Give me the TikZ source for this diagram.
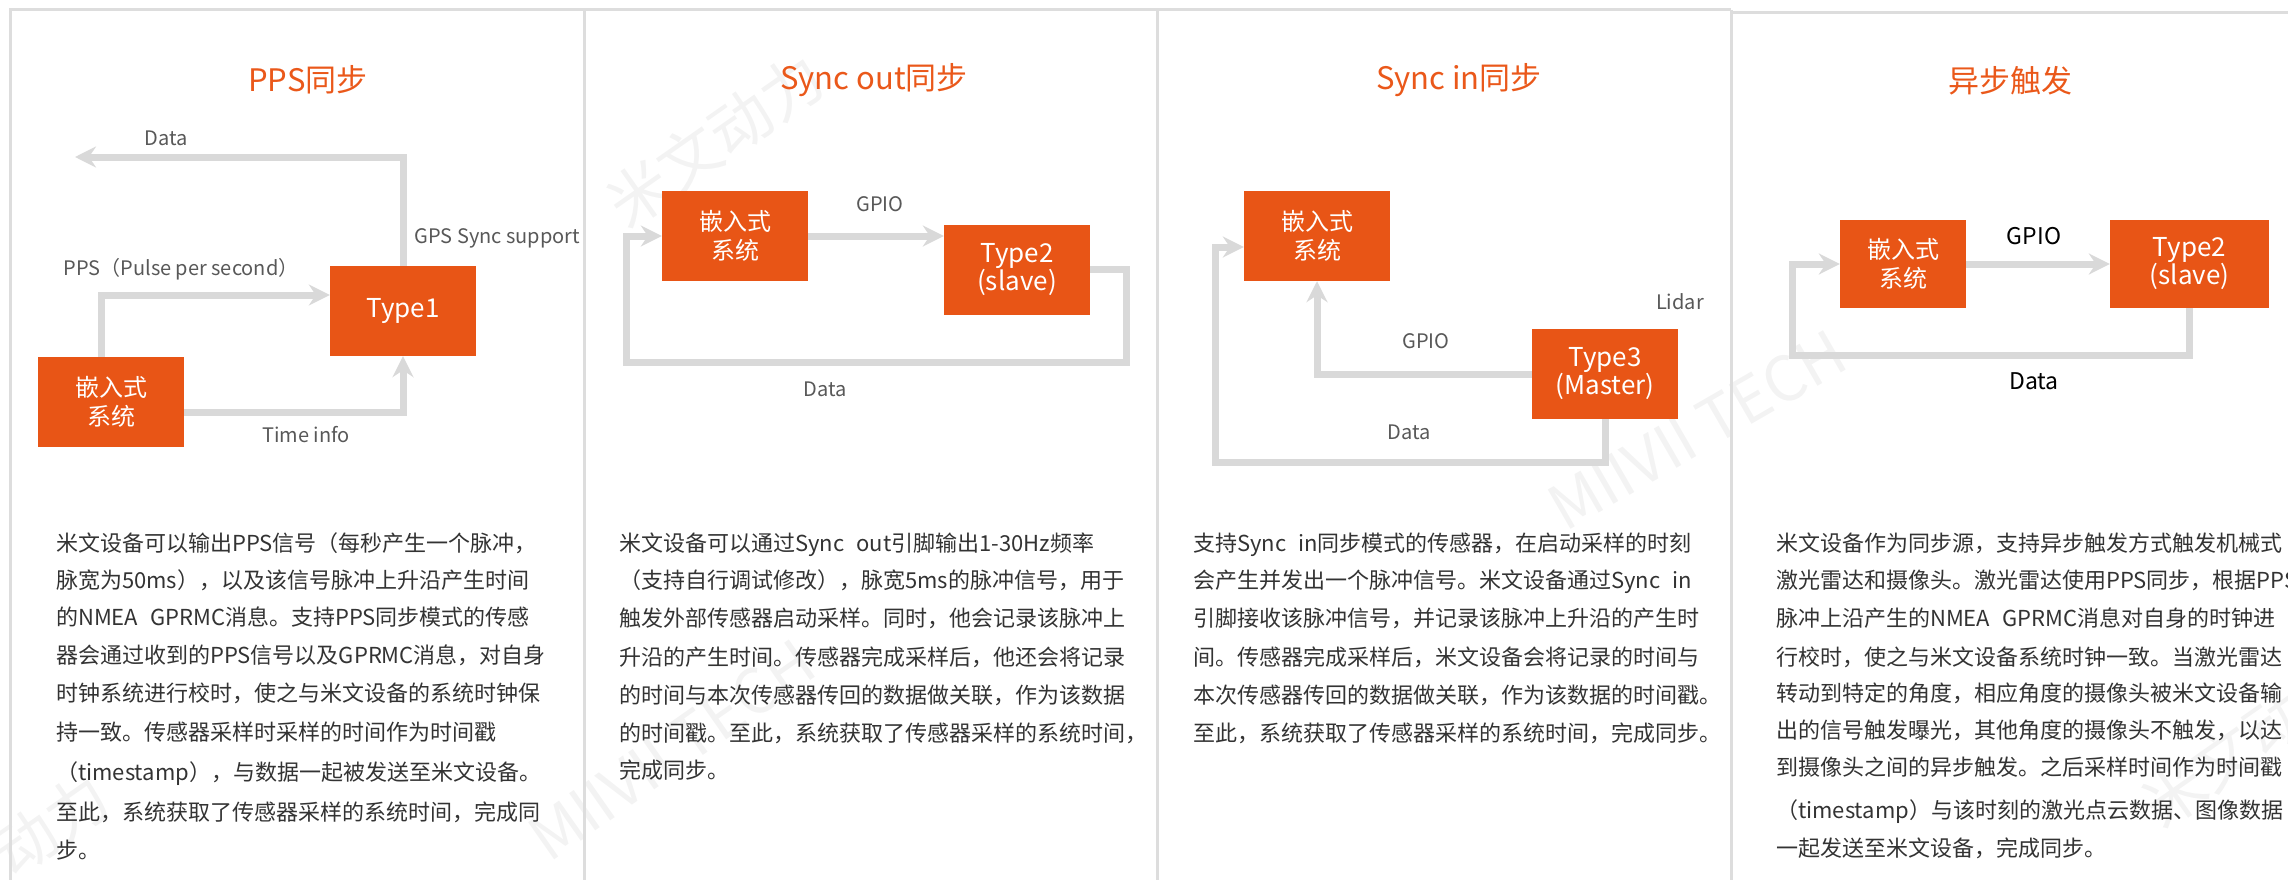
\documentclass[tikz,border=0pt]{standalone}
\usepackage{fontspec}
\setmainfont{Noto Sans CJK SC}
\usepackage{tikz}
\usetikzlibrary{arrows.meta, positioning}
\definecolor{boxorange}{RGB}{232,85,22}
\definecolor{ttlorange}{RGB}{234,88,26}
\definecolor{flowgray}{RGB}{217,217,217}
\definecolor{framegray}{RGB}{221,221,221}
\definecolor{lblgray}{RGB}{88,88,88}
\definecolor{bodygray}{RGB}{51,51,51}
\definecolor{wmgray}{RGB}{243,243,243}
\newcommand{\EMB}{嵌入式\\系统}
\newcommand{\SLAVE}{Type2\\(slave)}
\newcommand{\gapsp}{\hspace{12pt}}
\tikzset{
  box/.style={fill=boxorange, minimum width=146pt, minimum height=90pt, inner sep=0pt,
    text=white, align=center, font=\fontsize{24}{29}\selectfont},
  typebox/.style={box, font=\fontsize{26}{28}\selectfont},
  flow/.style={draw=flowgray, line width=7pt, -{Stealth[length=21pt,width=21pt,inset=7pt]}},
  ttl/.style={text=ttlorange, font=\fontsize{31}{36}\selectfont},
  lbl/.style={text=lblgray, font=\fontsize{20}{24}\selectfont},
  lblb/.style={text=black, font=\fontsize{23}{26}\selectfont},
  body/.style={anchor=base west, inner sep=0pt, text=bodygray, font=\fontsize{22}{26}\selectfont},
  frame/.style={draw=framegray, line width=3pt},
  wmark/.style={text=wmgray, font=\fontsize{62}{62}\selectfont}
}
\begin{document}
\begin{tikzpicture}[x=1pt,y=-1pt]
\useasboundingbox (0,0) rectangle (2288,880);
% watermarks
\node[wmark,rotate=35] (wm1) at (715,140) {米文动力};
\node[wmark,rotate=30] (wm2) at (1697,430) {MIIVII TECH};
\node[wmark,rotate=35] (wm3) at (672,750) {MIIVII TECH};
\node[wmark,rotate=35] (wm4) at (0,860) {米文动力};
\node[wmark,rotate=35] (wm5) at (2250,740) {米文动力};
% panel frames
\draw[frame] (10,880) -- (10,10) -- (1731,10);
\draw[frame] (584,10) -- (584,880);
\draw[frame] (1157,10) -- (1157,880);
\draw[frame] (1731,10) -- (1731,880);
\draw[frame] (1731,12.5) -- (2288,12.5);
% PPS panel
\node[ttl] (ttl1) at (308,80) {PPS同步};
\node[box] (e1) at (111,402) {\EMB};
\node[typebox] (t1) at (403,311) {Type1};
\coordinate (d1) at (75,157);
\draw[flow] (t1.north) |- (d1);
\draw[flow] ([xshift=-10pt]e1.north) |- ([yshift=16pt]t1.west);
\draw[flow] ([yshift=-10pt]e1.east) -| (t1.south);
\node[lbl] (l1a) at (166,138) {Data};
\node[lbl,anchor=west] (l1b) at (411,238) {GPS Sync support};
\node[lbl] (l1c) at (181,269) {PPS（Pulse per second）};
\node[lbl] (l1d) at (306,435) {Time info};
\node[body] (p1a) at (56,551) {米文设备可以输出PPS信号（每秒产生一个脉冲，};
\node[body] (p1b) at (56,588) {脉宽为50ms），以及该信号脉冲上升沿产生时间};
\node[body] (p1c) at (56,625) {的NMEA\gapsp GPRMC消息。支持PPS同步模式的传感};
\node[body] (p1d) at (56,663) {器会通过收到的PPS信号以及GPRMC消息，对自身};
\node[body] (p1e) at (56,701) {时钟系统进行校时，使之与米文设备的系统时钟保};
\node[body] (p1f) at (56,740) {持一致。传感器采样时采样的时间作为时间戳};
\node[body] (p1g) at (56,780) {（timestamp），与数据一起被发送至米文设备。};
\node[body] (p1h) at (56,820) {至此，系统获取了传感器采样的系统时间，完成同};
\node[body] (p1i) at (56,858) {步。};
% Sync out panel
\node[ttl] (ttl2) at (874,80) {Sync out同步};
\node[box] (e2) at (735,236) {\EMB};
\node[typebox] (t2) at (1017,269.5) {\SLAVE};
\coordinate (d2) at (626,362);
\draw[flow] (e2.east) -- (e2.east -| t2.west);
\draw[flow] (t2.east) -- ++(36,0) |- (d2) |- (e2.west);
\node[lbl] (l2a) at (880,204) {GPIO};
\node[lbl] (l2b) at (825,389) {Data};
\node[body] (p2a) at (619,551) {米文设备可以通过Sync\gapsp out引脚输出1-30Hz频率};
\node[body] (p2b) at (619,588) {（支持自行调试修改），脉宽5ms的脉冲信号，用于};
\node[body] (p2c) at (619,626) {触发外部传感器启动采样。同时，他会记录该脉冲上};
\node[body] (p2d) at (619,665) {升沿的产生时间。传感器完成采样后，他还会将记录};
\node[body] (p2e) at (619,703) {的时间与本次传感器传回的数据做关联，作为该数据};
\node[body] (p2f) at (619,741) {的时间戳。至此，系统获取了传感器采样的系统时间，};
\node[body] (p2g) at (619,778) {完成同步。};
% Sync in panel
\node[ttl] (ttl3) at (1459,80) {Sync in同步};
\node[box] (e3) at (1317,236) {\EMB};
\node[typebox] (t3) at (1605,374) {Type3\\(Master)};
\coordinate (d3) at (1215,462);
\draw[flow] (t3.west) -| (e3.south);
\draw[flow] (t3.south) |- (d3) |- ([yshift=-11pt]e3.west);
\node[lbl] (l3a) at (1680,302) {Lidar};
\node[lbl] (l3b) at (1426,341) {GPIO};
\node[lbl] (l3c) at (1409,432) {Data};
\node[body] (p3a) at (1193,551) {支持Sync\gapsp in同步模式的传感器，在启动采样的时刻};
\node[body] (p3b) at (1193,588) {会产生并发出一个脉冲信号。米文设备通过Sync\gapsp in};
\node[body] (p3c) at (1193,626) {引脚接收该脉冲信号，并记录该脉冲上升沿的产生时};
\node[body] (p3d) at (1193,665) {间。传感器完成采样后，米文设备会将记录的时间与};
\node[body] (p3e) at (1193,703) {本次传感器传回的数据做关联，作为该数据的时间戳。};
\node[body] (p3f) at (1193,741) {至此，系统获取了传感器采样的系统时间，完成同步。};
% async trigger panel
\node[ttl] (ttl4) at (2010,81) {异步触发};
\node[box,minimum width=126pt,minimum height=88pt] (e4) at (1903,264) {\EMB};
\node[typebox,minimum width=159pt,minimum height=88pt] (t4) at (2189.5,264) {\SLAVE};
\coordinate (d4) at (1792,355);
\draw[flow] (e4.east) -- (t4.west);
\draw[flow] (t4.south) |- (d4) |- (e4.west);
\node[lblb] (l4a) at (2034,236) {GPIO};
\node[lblb] (l4b) at (2034,381) {Data};
\node[body] (p4a) at (1776,551) {米文设备作为同步源，支持异步触发方式触发机械式};
\node[body] (p4b) at (1776,588) {激光雷达和摄像头。激光雷达使用PPS同步，根据PPS};
\node[body] (p4c) at (1776,626) {脉冲上沿产生的NMEA\gapsp GPRMC消息对自身的时钟进};
\node[body] (p4d) at (1776,665) {行校时，使之与米文设备系统时钟一致。当激光雷达};
\node[body] (p4e) at (1776,701) {转动到特定的角度，相应角度的摄像头被米文设备输};
\node[body] (p4f) at (1776,738) {出的信号触发曝光，其他角度的摄像头不触发，以达};
\node[body] (p4g) at (1776,775) {到摄像头之间的异步触发。之后采样时间作为时间戳};
\node[body] (p4h) at (1776,818) {（timestamp）与该时刻的激光点云数据、图像数据};
\node[body] (p4i) at (1776,856) {一起发送至米文设备，完成同步。};
\end{tikzpicture}
\end{document}
